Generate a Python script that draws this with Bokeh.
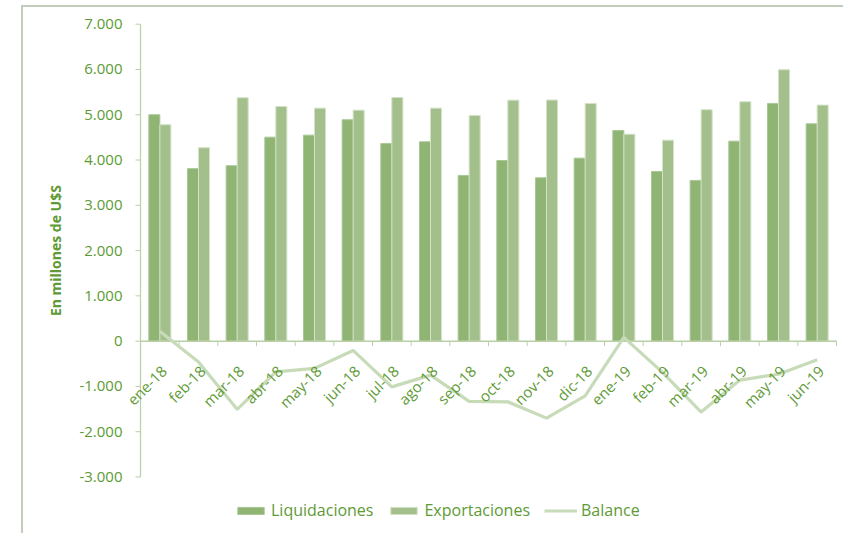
import math
from bokeh.plotting import figure
from bokeh.models import Range1d, Legend, LegendItem, ColumnDataSource
from bokeh.core.properties import value
from bokeh.embed import file_html
from bokeh.resources import INLINE

meses = ["ene-18", "feb-18", "mar-18", "abr-18", "may-18", "jun-18", "jul-18",
         "ago-18", "sep-18", "oct-18", "nov-18", "dic-18", "ene-19", "feb-19",
         "mar-19", "abr-19", "may-19", "jun-19"]
liquidaciones = [5000, 3810, 3875, 4505, 4550, 4890, 4366, 4403, 3660, 3990,
                 3608, 4042, 4653, 3748, 3550, 4417, 5250, 4800]
exportaciones = [4780, 4272, 5375, 5183, 5146, 5102, 5382, 5146, 4985, 5323,
                 5325, 5250, 4570, 4439, 5110, 5287, 5994, 5213]
balance = [220, -460, -1505, -680, -600, -205, -1010, -750, -1330, -1340,
           -1700, -1210, 85, -690, -1565, -860, -730, -410]
y_ticks = [-3000, -2000, -1000, 0, 1000, 2000, 3000, 4000, 5000, 6000, 7000]
y_tick_labels = ["-3.000", "-2.000", "-1.000", "0", "1.000", "2.000", "3.000",
                 "4.000", "5.000", "6.000", "7.000"]
y_title = "En millones de U$S"

GREEN_TXT = "#5e9a35"
C_LIQ = "#8fb474"
C_EXP = "#a3c08c"
C_BAL = "#c8dbb8"
C_AXIS = "#b9cfa6"
C_BORDER = "#c3cdbb"
FONT = "Open Sans"

W, H = 843, 533
# plot-area geometry in pixels
PL, PR, PT, PB = 140.0, 836.0, 23.7, 476.5
n = len(meses)
ymin, ymax = y_ticks[0], y_ticks[-1]
xs = (PR - PL) / n                 # px per category
ys = (PB - PT) / (ymax - ymin)     # px per unit
x_range = Range1d(-PL / xs, n + (W - PR) / xs)
y_range = Range1d(ymin - (H - PB) / ys, ymax + PT / ys)

centers = [i + 0.5 for i in range(n)]
bw = 0.285
src = ColumnDataSource(dict(
    x_liq=[c - bw / 2 for c in centers],
    x_exp=[c + bw / 2 for c in centers],
    xc=centers,
    zero=[0] * n,
    lab=meses,
    liq=liquidaciones,
    exp=exportaciones,
    bal=balance,
))

p = figure(width=W, height=H, output_backend="svg", toolbar_location=None,
           x_range=x_range, y_range=y_range,
           x_axis_location=None, y_axis_location=None,
           min_border_left=0, min_border_right=0, min_border_top=0,
           min_border_bottom=0)
p.outline_line_color = None
p.grid.grid_line_color = None
p.background_fill_color = None
p.border_fill_color = None
p.styles = {
    "background": (f"linear-gradient({C_BORDER}, {C_BORDER}) 21px 5px / 2px 100% no-repeat, "
                   f"linear-gradient({C_BORDER}, {C_BORDER}) 21px 5px / 100% 2px no-repeat, "
                   "white"),
}

r_liq = p.vbar(x="x_liq", top="liq", bottom=0, width=bw, source=src,
               fill_color=C_LIQ, line_color="#a9c796", line_width=1)
r_exp = p.vbar(x="x_exp", top="exp", bottom=0, width=bw, source=src,
               fill_color=C_EXP, line_color="#d3e2c6", line_width=1)

# y axis: line, ticks, labels, title
tick_px = 5
p.segment(x0=[0], y0=[ymin], x1=[0], y1=[ymax], line_color=C_AXIS,
          line_width=1.2)
p.segment(x0=[0] * len(y_ticks), y0=y_ticks,
          x1=[-tick_px / xs] * len(y_ticks), y1=y_ticks,
          line_color=C_AXIS, line_width=1)
p.text(x=[0] * len(y_ticks), y=y_ticks, text=y_tick_labels,
       x_offset=-18, text_align="right", text_baseline="middle",
       text_color=GREEN_TXT, text_font=value(FONT), text_font_size="15px")
p.text(x=[0], y=[(ymin + ymax) / 2], text=[y_title], angle=math.pi / 2,
       x_offset=-85, text_align="center", text_baseline="middle",
       text_color=GREEN_TXT, text_font=value(FONT), text_font_size="14px",
       text_font_style="bold")

# x axis line at zero with ticks at category boundaries
bounds = list(range(n + 1))
p.segment(x0=[0], y0=[0], x1=[n], y1=[0], line_color=C_AXIS, line_width=1.5)
p.segment(x0=bounds, y0=[0] * (n + 1), x1=bounds,
          y1=[-tick_px / ys] * (n + 1), line_color=C_AXIS, line_width=1)

r_bal = p.line(x="xc", y="bal", source=src, line_color=C_BAL, line_width=3.2)

# category labels
p.text(x="xc", y="zero", text="lab", source=src, angle=math.pi / 4,
       text_align="right", text_baseline="middle", x_offset=4, y_offset=27,
       text_color=GREEN_TXT, text_font=value(FONT), text_font_size="15px")

legend = Legend(items=[
    LegendItem(label="Liquidaciones", renderers=[r_liq]),
    LegendItem(label="Exportaciones", renderers=[r_exp]),
    LegendItem(label="Balance", renderers=[r_bal]),
], orientation="horizontal", location=(234, 12))
legend.label_text_color = GREEN_TXT
legend.label_text_font = FONT
legend.label_text_font_size = "16px"
legend.glyph_width = 33
legend.glyph_height = 9
legend.label_standoff = 4
legend.spacing = 14
legend.border_line_color = None
legend.background_fill_alpha = 0
legend.padding = 0
legend.margin = 0
p.add_layout(legend)

open("out.html", "w").write(file_html(p, INLINE))
